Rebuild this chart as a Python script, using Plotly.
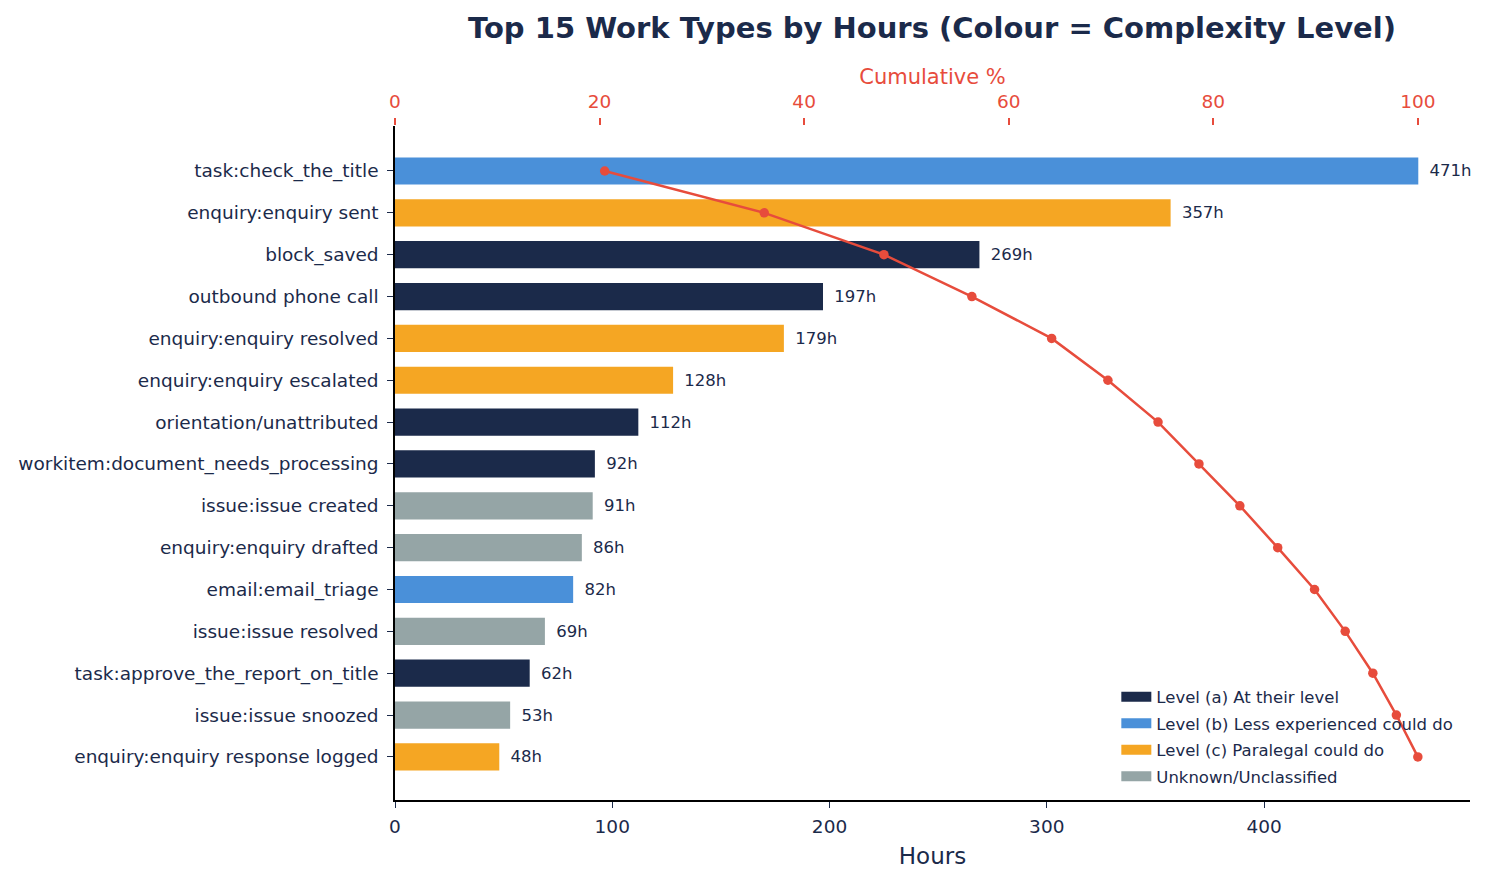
import plotly.graph_objects as go

# ---- data ----
work_types = [
    "task:check_the_title",
    "enquiry:enquiry sent",
    "block_saved",
    "outbound phone call",
    "enquiry:enquiry resolved",
    "enquiry:enquiry escalated",
    "orientation/unattributed",
    "workitem:document_needs_processing",
    "issue:issue created",
    "enquiry:enquiry drafted",
    "email:email_triage",
    "issue:issue resolved",
    "task:approve_the_report_on_title",
    "issue:issue snoozed",
    "enquiry:enquiry response logged",
]
hours = [471, 357, 269, 197, 179, 128, 112, 92, 91, 86, 82, 69, 62, 53, 48]
level_codes = ["b", "c", "a", "a", "c", "c", "a", "a", "u", "u", "b", "u", "a", "u", "c"]
cumulative_pct = [20.5, 36.1, 47.8, 56.4, 64.2, 69.7, 74.6, 78.6, 82.6, 86.3, 89.9, 92.9, 95.6, 97.9, 100.0]

level_order = ["a", "b", "c", "u"]
level_names = {
    "a": "Level (a) At their level",
    "b": "Level (b) Less experienced could do",
    "c": "Level (c) Paralegal could do",
    "u": "Unknown/Unclassified",
}
level_colors = {"a": "#1b2a4a", "b": "#4a90d9", "c": "#f5a623", "u": "#95a5a6"}

NAVY = "#1b2a4a"
RED = "#e74c3c"
FONT = "DejaVu Sans"

fig = go.Figure()

for code in level_order:
    ys = [w for w, l in zip(work_types, level_codes) if l == code]
    xs = [h for h, l in zip(hours, level_codes) if l == code]
    fig.add_trace(go.Bar(
        x=xs, y=ys, orientation="h",
        name=level_names[code],
        legendgroup=code,
        showlegend=False,
        marker=dict(color=level_colors[code], line=dict(width=0)),
        width=0.65,
        text=[f"\u2002{v}h" for v in xs],
        textposition="outside",
        textfont=dict(family=FONT, size=16.5, color=NAVY),
        cliponaxis=False,
        hoverinfo="x+y",
    ))

# legend entries (wide swatches)
for code in level_order:
    fig.add_trace(go.Scatter(
        x=[None], y=[None], mode="lines",
        name=level_names[code], legendgroup=code,
        line=dict(color=level_colors[code], width=12),
        showlegend=True,
    ))

fig.add_trace(go.Scatter(
    x=cumulative_pct, y=work_types, xaxis="x2",
    mode="lines+markers",
    line=dict(color=RED, width=2.5),
    marker=dict(color=RED, size=9.5),
    showlegend=False,
    cliponaxis=False,
))

fig.update_layout(
    width=1478, height=874,
    margin=dict(l=387, r=16, t=118, b=82),
    paper_bgcolor="white", plot_bgcolor="white",
    font=dict(family=FONT, color=NAVY, size=18.5),
    barmode="overlay",
    title=dict(
        text="<b>Top 15 Work Types by Hours (Colour = Complexity Level)</b>",
        x=924 / 1478, xanchor="center", y=1 - 20 / 874, yanchor="middle",
        xref="container", yref="container",
        font=dict(family=FONT, size=29, color=NAVY),
    ),
    xaxis=dict(
        range=[0, 494.8],
        showgrid=False, zeroline=False,
        showline=True, linecolor="black", linewidth=1.5,
        ticks="outside", ticklen=6, tickwidth=1.2, tickcolor=NAVY,
        tickvals=[0, 100, 200, 300, 400],
        ticklabelstandoff=3,
        tickfont=dict(family=FONT, size=18.5, color=NAVY),
        title=dict(text="Hours", font=dict(family=FONT, size=23, color=NAVY), standoff=12),
        automargin=False,
    ),
    xaxis2=dict(
        overlaying="x", side="top",
        range=[0, 105.1],
        showgrid=False, zeroline=False, showline=False,
        ticks="outside", ticklen=7, tickwidth=1.5, tickcolor=RED,
        tickvals=[0, 20, 40, 60, 80, 100],
        ticklabelstandoff=3,
        tickfont=dict(family=FONT, size=18.5, color=RED),
        title=dict(text="Cumulative %", font=dict(family=FONT, size=21, color=RED), standoff=0),
        automargin=False,
    ),
    yaxis=dict(
        type="category",
        categoryorder="array", categoryarray=work_types,
        range=[14 + 1.03, -1.075],
        showgrid=False, zeroline=False,
        showline=True, linecolor="black", linewidth=1.5,
        ticks="outside", ticklen=6, tickwidth=1.2, tickcolor=NAVY,
        ticklabelstandoff=5,
        tickfont=dict(family=FONT, size=18.5, color=NAVY),
        automargin=False,
    ),
    legend=dict(
        x=0.671, y=0.0095, xanchor="left", yanchor="bottom",
        bgcolor="rgba(0,0,0,0)",
        font=dict(family=FONT, size=16.5, color=NAVY),
        tracegroupgap=2,
    ),
)

fig.write_html("out.html")
